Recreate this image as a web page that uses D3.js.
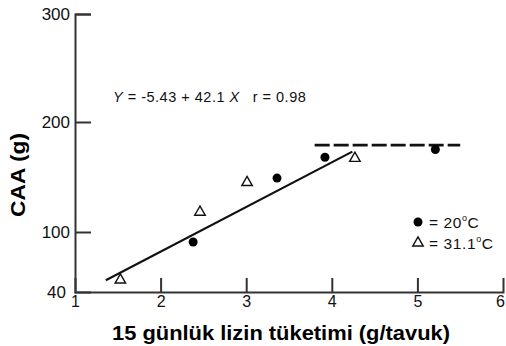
<!DOCTYPE html>
<html>
<head>
<meta charset="utf-8">
<script src="https://cdn.jsdelivr.net/npm/d3@7"></script>
<style>
  html, body { margin: 0; padding: 0; background: #fff; }
  svg { display: block; font-family: "Liberation Sans", Arial, sans-serif; }
</style>
</head>
<body>
<svg id="chart" width="506" height="346"></svg>
<script>
// Lysine intake (g/hen over 15 days) vs. egg mass response
const xTicks = [1, 2, 3, 4, 5, 6];
const yTicks = [40, 100, 200, 300];

const lysine20 = [2.38, 3.36, 3.92, 5.21];
const caa20 = [90, 149, 168, 175];

const lysine31 = [1.53, 2.46, 3.01, 4.27];
const caa31 = [52, 118, 145, 167];

// Fitted regression Y = -5.43 + 42.1 X, drawn over its fitted range
const fitIntercept = -5.43;
const fitSlope = 42.1;
const fitRange = [1.36, 4.24];

// Plateau
const plateauRange = [3.8, 5.5];
const plateauValue = 179;

const svg = d3.select("#chart");

const x = d3.scaleLinear().domain([1, 6]).range([75, 503]);
// The printed axis is not uniformly spaced below 100
const y = d3.scaleLinear().domain([40, 100, 200, 300]).range([292, 232, 122, 14]);

const axisColor = "#333";

// Y axis
const yAxis = svg.append("g")
  .attr("transform", `translate(${x(1)},0)`)
  .call(d3.axisLeft(y).tickValues(yTicks).tickSize(-16).tickPadding(5).tickFormat(d3.format("d")));
yAxis.select(".domain").attr("stroke", axisColor).attr("stroke-width", 2);
yAxis.selectAll(".tick line").attr("stroke", axisColor).attr("stroke-width", 2)
  .filter(d => d === 40).remove();
yAxis.selectAll(".tick text").attr("fill", "#111").style("font-size", "17px")
  .attr("dy", "0.35em");
yAxis.selectAll(".tick").filter(d => d === 40).select("text").attr("x", -9);

// X axis
const xAxis = svg.append("g")
  .attr("transform", `translate(0,${y(40)})`)
  .call(d3.axisBottom(x).tickValues(xTicks).tickSize(-14).tickPadding(4).tickFormat(d3.format("d")));
xAxis.select(".domain").attr("stroke", axisColor).attr("stroke-width", 2);
xAxis.selectAll(".tick line").attr("stroke", axisColor).attr("stroke-width", 2)
  .filter(d => d === 1 || d === 6).remove();
xAxis.selectAll(".tick text").attr("fill", "#111").style("font-size", "16px").attr("y", 4);
xAxis.selectAll(".tick").filter(d => d === 6).select("text").attr("x", -3);

// Axis titles
svg.append("text")
  .attr("transform", `translate(25,${(y(300) + y(40)) / 2 + 22}) rotate(-90)`)
  .attr("text-anchor", "middle")
  .attr("textLength", 84).attr("lengthAdjust", "spacingAndGlyphs")
  .style("font-size", "20px").style("font-weight", "bold").attr("fill", "#000")
  .text("CAA (g)");

svg.append("text")
  .attr("x", 281).attr("y", 340)
  .attr("text-anchor", "middle")
  .attr("textLength", 338).attr("lengthAdjust", "spacingAndGlyphs")
  .style("font-size", "20px").style("font-weight", "bold").attr("fill", "#000")
  .text("15 günlük lizin tüketimi (g/tavuk)");

// Regression line
const line = d3.line().x(d => x(d)).y(d => y(fitIntercept + fitSlope * d));
svg.append("path")
  .datum(fitRange)
  .attr("d", line)
  .attr("fill", "none").attr("stroke", "#111").attr("stroke-width", 2.2);

// Plateau (dashed)
svg.append("line")
  .attr("x1", x(plateauRange[0])).attr("x2", x(plateauRange[1]))
  .attr("y1", y(plateauValue)).attr("y2", y(plateauValue))
  .attr("stroke", "#111").attr("stroke-width", 2.8)
  .attr("stroke-dasharray", "15,4");

// Equation label
const eq = svg.append("text")
  .attr("x", 113).attr("y", 102)
  .style("font-size", "14.5px").style("letter-spacing", "0.5px").attr("fill", "#111");
eq.append("tspan").style("font-style", "italic").text("Y");
eq.append("tspan").text(" = -5.43 + 42.1 ");
eq.append("tspan").style("font-style", "italic").text("X");
eq.append("tspan").attr("dx", 13).text("r = 0.98");

// Points
const triangle = d3.symbol().type(d3.symbolTriangle).size(48);

svg.append("g").selectAll("circle")
  .data(d3.zip(lysine20, caa20))
  .join("circle")
  .attr("cx", d => x(d[0])).attr("cy", d => y(d[1]))
  .attr("r", 4.5).attr("fill", "#000");

svg.append("g").selectAll("path")
  .data(d3.zip(lysine31, caa31))
  .join("path")
  .attr("transform", d => `translate(${x(d[0])},${y(d[1])})`)
  .attr("d", triangle)
  .attr("fill", "#fff").attr("stroke", "#111").attr("stroke-width", 1.4);

// Legend
const legend = svg.append("g");
legend.append("circle").attr("cx", 418).attr("cy", 222).attr("r", 4.5).attr("fill", "#000");
legend.append("path").attr("transform", "translate(418,243)").attr("d", triangle)
  .attr("fill", "#fff").attr("stroke", "#111").attr("stroke-width", 1.4);
const l1 = legend.append("text").attr("x", 429).attr("y", 228)
  .style("font-size", "15.5px").style("letter-spacing", "0.6px").attr("fill", "#111");
l1.append("tspan").text("= 20");
l1.append("tspan").attr("dy", -7).style("font-size", "9px").text("o");
l1.append("tspan").attr("dy", 7).text("C");
const l2 = legend.append("text").attr("x", 429).attr("y", 249)
  .style("font-size", "15.5px").style("letter-spacing", "0.6px").attr("fill", "#111");
l2.append("tspan").text("= 31.1");
l2.append("tspan").attr("dy", -7).style("font-size", "9px").text("o");
l2.append("tspan").attr("dy", 7).text("C");
</script>
</body>
</html>
